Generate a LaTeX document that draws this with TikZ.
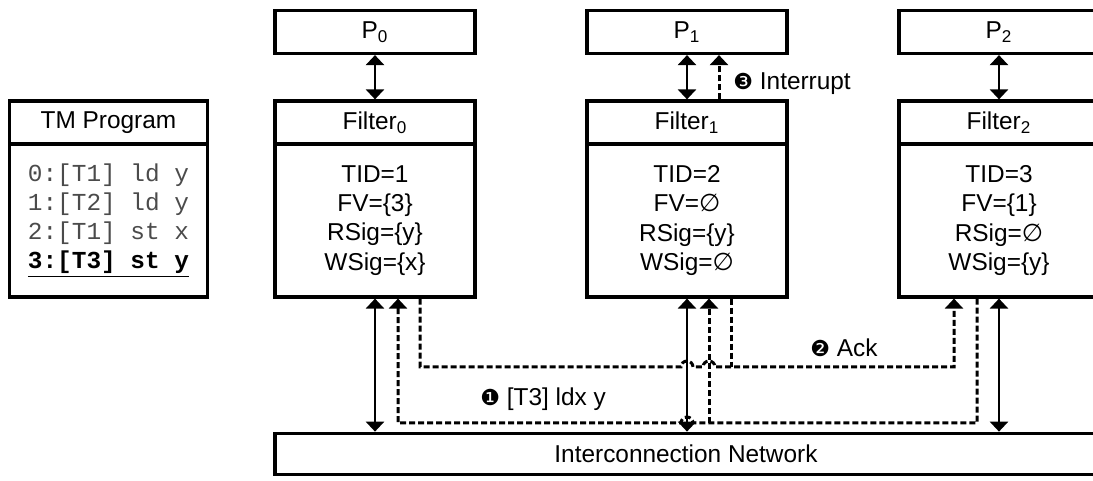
\documentclass[tikz,border=0pt]{standalone}
\usepackage{fontspec}
\setmainfont{Liberation Sans}
\setmonofont{Liberation Mono}
\newfontfamily\dingfont{DejaVu Sans}
\usetikzlibrary{arrows.meta, calc}
\definecolor{codegray}{RGB}{75,75,75}
\newcommand{\bodyfont}{\fontsize{12.2pt}{14.6pt}\selectfont}
\newcommand{\numdot}[1]{{\dingfont\fontsize{11pt}{12pt}\selectfont #1}}
\newcommand{\nullset}{{\dingfont ∅}}
\tikzset{
  unitbox/.style={draw, line width=1.6pt, minimum width=100pt, minimum height=21.5pt,
    inner sep=0pt, align=center, font=\bodyfont},
  bodybox/.style={unitbox, minimum height=76.5pt},
  biarrow/.style={line width=1.3pt, {Triangle[width=9pt,length=5pt]}-{Triangle[width=9pt,length=5pt]}},
  sigline/.style={line width=1.5pt, dash pattern=on 3pt off 1.5pt},
  sigarrow/.style={sigline, -{Triangle[width=9pt,length=5pt]}},
  msglabel/.style={anchor=base west, inner sep=0pt, font=\bodyfont}
}

\begin{document}
\begin{tikzpicture}[x=0.5pt, y=0.5pt]
  \useasboundingbox (0,0) rectangle (1093,481);
  % program listing
  \node[unitbox, minimum width=99pt] (tmh) at (108.5,358.5) {TM Program};
  \node[bodybox, minimum width=99pt, align=left, text=codegray,
    font=\bodyfont\ttfamily] (tmb) at (108.5,260.5)
    {0:[T1] ld y\\1:[T2] ld y\\2:[T1] st x\\
     \textcolor{black}{\underline{\textbf{3:[T3] st y}}}};
  % processors and filters
  \node[unitbox] (p0) at (375,449) {P\textsubscript{0}};
  \node[unitbox] (p1) at (687,449) {P\textsubscript{1}};
  \node[unitbox] (p2) at (999,449) {P\textsubscript{2}};
  \node[unitbox] (f0h) at (375,358.5) {Filter\textsubscript{0}};
  \node[unitbox] (f1h) at (687,358.5) {Filter\textsubscript{1}};
  \node[unitbox] (f2h) at (999,358.5) {Filter\textsubscript{2}};
  \node[bodybox] (f0b) at (375,260.5) {TID=1\\FV=\{3\}\\RSig=\{y\}\\WSig=\{x\}};
  \node[bodybox] (f1b) at (687,260.5) {TID=2\\FV=\nullset\\RSig=\{y\}\\WSig=\nullset};
  \node[bodybox] (f2b) at (999,260.5) {TID=3\\FV=\{1\}\\RSig=\nullset\\WSig=\{y\}};
  \node[unitbox, minimum width=411pt, minimum height=20.75pt] (net) at (686,27)
    {Interconnection Network};
  % processor links
  \draw[biarrow] (p0) -- (f0h);
  \draw[biarrow] (p1) -- (f1h);
  \draw[biarrow] (p2) -- (f2h);
  \draw[sigarrow] ($(f1h.north)+(32,0)$) -- ($(p1.south)+(32,0)$);
  % network links
  \draw[biarrow] (f0b) -- (f0b |- net.north);
  \draw[biarrow] (f1b) -- (f1b |- net.north);
  \draw[biarrow] (f2b) -- (f2b |- net.north);
  \coordinate (reqbus) at (0,58);
  \coordinate (ackbus) at (0,114);
  \coordinate (b0) at ($(f0b.south)+(23,0)$);
  \coordinate (c0) at ($(f0b.south)+(45,0)$);
  \coordinate (b1) at ($(f1b.south)+(22,0)$);
  \coordinate (c1) at ($(f1b.south)+(44,0)$);
  \coordinate (b2) at ($(f2b.south)+(-22,0)$);
  \coordinate (c2) at ($(f2b.south)+(-45,0)$);
  \draw[sigarrow] (b2) -- (b2 |- reqbus)
    -- ($(f1b.south |- reqbus)+(6,0)$) arc[start angle=0, end angle=180, radius=3pt]
    -- (b0 |- reqbus) -- (b0);
  \draw[sigarrow] (b1 |- reqbus) -- (b1);
  \draw[sigarrow] (c0) -- (c0 |- ackbus)
    -- ($(f1b.south |- ackbus)+(-6,0)$) arc[start angle=180, end angle=0, radius=3pt]
    -- ($(b1 |- ackbus)+(-6,0)$) arc[start angle=180, end angle=0, radius=3pt]
    -- (c2 |- ackbus) -- (c2);
  \draw[sigline] (c1) -- (c1 |- ackbus);
  % message labels
  \node[msglabel] (lint) at (733,391) {\numdot{❸} Interrupt};
  \node[msglabel] (lack) at (810,124) {\numdot{❷} Ack};
  \node[msglabel] (lreq) at (480,75) {\numdot{❶} [T3] ldx y};
\end{tikzpicture}
\end{document}
